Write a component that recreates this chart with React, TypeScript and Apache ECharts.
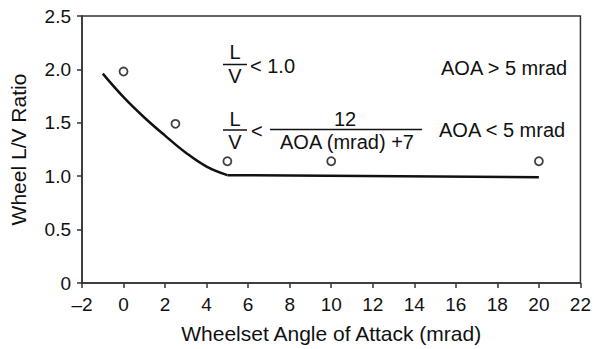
import React, { useEffect, useRef } from "react";
import * as echarts from "echarts";

// Data
const curveX = [-1, 0, 1, 2, 3, 4, 5];
const curveY = [1.96, 1.74, 1.55, 1.38, 1.22, 1.09, 1.01];
const flatX = [5, 20];
const flatY = [1.01, 0.99];
const obsX = [0, 2.5, 5, 10, 20];
const obsY = [1.98, 1.49, 1.14, 1.14, 1.14];

const xTitle = "Wheelset Angle of Attack (mrad)";
const yTitle = "Wheel L/V Ratio";

const FONT = "'Liberation Sans', Arial, Helvetica, sans-serif";
const INK = "#111";

export default function App() {
  const ref = useRef<HTMLDivElement>(null);
  useEffect(() => {
    if (!ref.current) return;
    const chart = echarts.init(ref.current, undefined, { renderer: "svg" });
    const txt = (text: string, x: number, y: number, align: string = "center") => ({
      type: "text",
      x,
      y,
      style: {
        text,
        fill: INK,
        font: `20px ${FONT}`,
        align,
        verticalAlign: "middle",
      },
      silent: true,
    });
    const bar = (x1: number, x2: number, y: number) => ({
      type: "line",
      shape: { x1, y1: y, x2, y2: y },
      style: { stroke: INK, lineWidth: 1.5 },
      silent: true,
    });
    chart.setOption({
      animation: false,
      backgroundColor: "#fff",
      textStyle: { fontFamily: FONT },
      grid: {
        left: 82,
        right: 2,
        top: 16,
        bottom: 63,
        show: true,
        borderColor: "#333",
        borderWidth: 1.5,
        containLabel: false,
      },
      xAxis: {
        type: "value",
        min: -2,
        max: 22,
        interval: 2,
        name: xTitle,
        nameLocation: "middle",
        nameGap: 40,
        nameTextStyle: { fontSize: 21, color: INK, fontFamily: FONT },
        axisLine: { show: true, onZero: false, lineStyle: { color: "#333", width: 1.5 } },
        axisTick: { show: true, inside: false, length: 5, lineStyle: { color: "#333", width: 1.5 } },
        axisLabel: {
          fontSize: 19,
          color: INK,
          margin: 12,
          fontFamily: FONT,
          formatter: (v: number) => String(v).replace("-", "\u2013"),
        },
        splitLine: { show: false },
      },
      yAxis: {
        type: "value",
        min: 0,
        max: 2.5,
        interval: 0.5,
        name: yTitle,
        nameLocation: "middle",
        nameGap: 53,
        nameTextStyle: { fontSize: 21, color: INK, fontFamily: FONT },
        axisLine: { show: true, onZero: false, lineStyle: { color: "#333", width: 1.5 } },
        axisTick: { show: true, inside: false, length: 5, lineStyle: { color: "#333", width: 1.5 } },
        axisLabel: {
          fontSize: 19,
          color: INK,
          margin: 11,
          fontFamily: FONT,
          formatter: (v: number) => (v === 0 ? "0" : v.toFixed(1)),
        },
        splitLine: { show: false },
      },
      series: [
        {
          type: "line",
          data: curveX.map((x, i) => [x, curveY[i]]),
          smooth: 0.4,
          showSymbol: false,
          lineStyle: { color: INK, width: 2.5 },
          z: 2,
        },
        {
          type: "line",
          data: flatX.map((x, i) => [x, flatY[i]]),
          showSymbol: false,
          lineStyle: { color: INK, width: 2.5 },
          z: 2,
        },
        {
          type: "scatter",
          data: obsX.map((x, i) => [x, obsY[i]]),
          symbol: "circle",
          symbolSize: 8,
          itemStyle: { color: "#fff", borderColor: INK, borderWidth: 1.8 },
          z: 3,
        },
      ],
      graphic: [
        txt("L", 235, 52),
        bar(223, 247, 64.5),
        txt("V", 235, 76),
        txt("< 1.0", 250, 66, "left"),
        txt("AOA > 5 mrad", 441, 67.5, "left"),
        txt("L", 235, 119),
        bar(223, 247, 130),
        txt("V", 235, 142),
        txt("<", 251, 131, "left"),
        txt("12", 345, 119),
        bar(270, 422, 129.5),
        txt("AOA (mrad) +7", 347, 142),
        txt("AOA < 5 mrad", 439, 130, "left"),
      ],
    });
    return () => chart.dispose();
  }, []);
  return (
    <div
      ref={ref}
      style={{ position: "fixed", left: 0, top: 0, width: 594, height: 349 }}
    />
  );
}
